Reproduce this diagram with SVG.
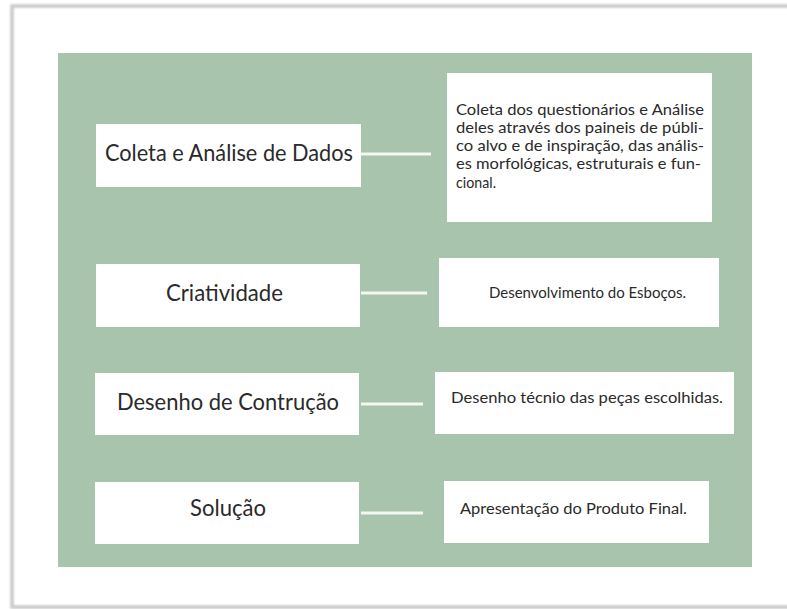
<svg xmlns="http://www.w3.org/2000/svg" width="787" height="609" viewBox="0 0 787 609">
<defs>
<filter id="sh" x="-5%" y="-5%" width="110%" height="110%"><feGaussianBlur stdDeviation="1.2"/></filter>
<style>
.box{fill:#ffffff}
text{lengthAdjust:spacingAndGlyphs}
.lab{font-family:Lato,"Liberation Sans",sans-serif;font-size:22.5px;fill:#2a2a2a}
.desc{font-family:Lato,"Liberation Sans",sans-serif;font-size:16px;fill:#2a2a2a}
.descs{font-family:Lato,"Liberation Sans",sans-serif;font-size:15.5px;fill:#2a2a2a}
.con{stroke:#f3f6f2;stroke-width:3;fill:none}
</style>
</defs>
<rect width="787" height="609" fill="#ffffff"/>
<path d="M800 6 H12 V607 H800" fill="none" stroke="#bdbdbd" stroke-width="3" filter="url(#sh)"/>
<path d="M800 6 H12 V607 H800" fill="none" stroke="#d4d4d4" stroke-width="1"/>
<rect x="58" y="53" width="694" height="514" fill="#a9c4ac"/>
<g id="connectors">
<line class="con" x1="361" y1="154" x2="431" y2="154"/>
<line class="con" x1="361" y1="293" x2="427" y2="293"/>
<line class="con" x1="361" y1="404" x2="423" y2="404"/>
<line class="con" x1="361" y1="513" x2="423" y2="513"/>
</g>
<g id="n1">
<rect class="box" x="96" y="124" width="265" height="63"/>
<text class="lab" x="105" y="161" textLength="248" lengthAdjust="spacingAndGlyphs">Coleta e Análise de Dados</text>
</g>
<g id="d1">
<rect class="box" x="447" y="73" width="265" height="149"/>
<text class="desc" x="456" y="115" textLength="248" lengthAdjust="spacingAndGlyphs">Coleta dos questionários e Análise</text>
<text class="desc" x="456" y="133" textLength="248" lengthAdjust="spacingAndGlyphs">deles através dos paineis de públi-</text>
<text class="desc" x="456" y="151" textLength="248" lengthAdjust="spacingAndGlyphs">co alvo e de inspiração, das anális-</text>
<text class="desc" x="456" y="169" textLength="245" lengthAdjust="spacingAndGlyphs">es morfológicas, estruturais e fun-</text>
<text class="desc" x="456" y="188" textLength="40" lengthAdjust="spacingAndGlyphs">cional.</text>
</g>
<g id="n2">
<rect class="box" x="96" y="264" width="264" height="63"/>
<text class="lab" x="166" y="301" textLength="117" lengthAdjust="spacingAndGlyphs">Criatividade</text>
</g>
<g id="d2">
<rect class="box" x="439" y="258" width="280" height="69"/>
<text class="descs" x="489" y="298" textLength="197" lengthAdjust="spacingAndGlyphs">Desenvolvimento do Esboços.</text>
</g>
<g id="n3">
<rect class="box" x="95" y="373" width="264" height="62"/>
<text class="lab" x="117" y="410" textLength="222" lengthAdjust="spacingAndGlyphs">Desenho de Contrução</text>
</g>
<g id="d3">
<rect class="box" x="435" y="372" width="299" height="62"/>
<text class="descs" x="451" y="403" textLength="272" lengthAdjust="spacingAndGlyphs">Desenho técnio das peças escolhidas.</text>
</g>
<g id="n4">
<rect class="box" x="95" y="482" width="264" height="62"/>
<text class="lab" x="190" y="516" textLength="76" lengthAdjust="spacingAndGlyphs">Solução</text>
</g>
<g id="d4">
<rect class="box" x="444" y="481" width="265" height="62"/>
<text class="descs" x="460" y="514" textLength="227" lengthAdjust="spacingAndGlyphs">Apresentação do Produto Final.</text>
</g>
</svg>
